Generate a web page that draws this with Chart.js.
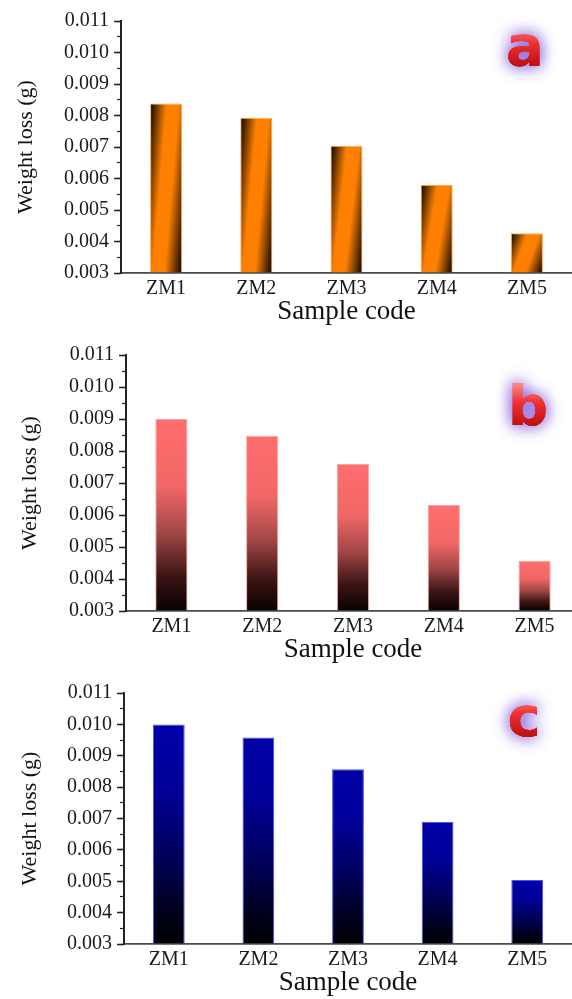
<!DOCTYPE html>
<html>
<head>
<meta charset="utf-8">
<script src="https://cdn.jsdelivr.net/npm/chart.js@4.4.1/dist/chart.umd.min.js"></script>
<style>
  html, body { margin: 0; padding: 0; background: #fff; }
  body { width: 572px; height: 999px; overflow: hidden; position: relative; }
  .panel { position: absolute; left: 0; width: 572px; overflow: hidden; }
</style>
</head>
<body>
<div class="panel" style="top:0px;height:328px"><canvas id="chartA" width="572" height="328"></canvas></div>
<div class="panel" style="top:330px;height:336px"><canvas id="chartB" width="582" height="336"></canvas></div>
<div class="panel" style="top:666px;height:333px"><canvas id="chartC" width="572" height="333"></canvas></div>
<script>
const sampleCodes = ['ZM1', 'ZM2', 'ZM3', 'ZM4', 'ZM5'];
const lossA = [0.00838, 0.00793, 0.00704, 0.00579, 0.00426];
const lossB = [0.00900, 0.00848, 0.00760, 0.00631, 0.00457];
const lossC = [0.01000, 0.00958, 0.00857, 0.00690, 0.00504];

const yMin = 0.003;
const yMax = 0.011;
const yStep = 0.001;
const yMinorStep = 0.0005;

const xTitle = 'Sample code';
const yTitle = 'Weight loss (g)';

const serif = '"Liberation Serif", "Times New Roman", serif';
const barFraction = 0.355;

// where the bar sits on the canvas, taken from the scales
function barBox(context) {
    const chart = context.chart;
    if (!chart.chartArea) return null;
    const xs = chart.scales.x;
    const ys = chart.scales.y;
    const cx = xs.getPixelForValue(context.dataIndex);
    const half = (xs.width / sampleCodes.length) * barFraction / 2;
    return {
        left: cx - half,
        right: cx + half,
        top: ys.getPixelForValue(context.raw),
        base: ys.getPixelForValue(yMin),
    };
}

function orangeFill(context) {
    const box = barBox(context);
    if (!box) return '#ff8000';
    const w = box.right - box.left;
    const h = box.base - box.top;
    const tilt = 0.45;
    const dx = h, dy = tilt * w;
    const norm = Math.hypot(dx, dy);
    const len = (1 + tilt) * w * h / norm;
    const g = context.chart.ctx.createLinearGradient(box.left, box.top, box.left + dx / norm * len, box.top + dy / norm * len);
    g.addColorStop(0, '#050200');
    g.addColorStop(0.36, '#ff8000');
    g.addColorStop(0.62, '#ff8000');
    g.addColorStop(1, '#050200');
    return g;
}

function verticalFill(stops, fallback) {
    return (context) => {
        const box = barBox(context);
        if (!box) return fallback;
        const g = context.chart.ctx.createLinearGradient(0, box.top, 0, box.base);
        stops.forEach(([p, col]) => g.addColorStop(p, col));
        return g;
    };
}

const redFill = verticalFill([[0, '#ff6e6e'], [0.35, '#f26767'], [0.6, '#a04646'], [0.82, '#3a1414'], [1, '#0a0000']], '#ff6e6e');
const blueFill = verticalFill([[0, '#0000a8'], [0.3, '#000098'], [0.65, '#000050'], [0.9, '#000012'], [1, '#000006']], '#0000a0');

const panelLetter = {
    id: 'panelLetter',
    afterDraw(chart, args, opts) {
        const c = chart.ctx;
        c.save();
        c.font = 'bold 56px "DejaVu Sans", sans-serif';
        c.textAlign = 'center';
        c.textBaseline = 'alphabetic';
        const g = c.createLinearGradient(0, opts.y - 40, 0, opts.y);
        g.addColorStop(0, '#ff8080');
        g.addColorStop(0.45, '#ee3030');
        g.addColorStop(1, '#c01010');
        c.fillStyle = g;
        c.shadowColor = 'rgba(130, 90, 220, 0.85)';
        c.shadowBlur = 16;
        c.fillText(opts.text, opts.x, opts.y);
        c.fillText(opts.text, opts.x, opts.y);
        c.shadowBlur = 0;
        c.fillText(opts.text, opts.x, opts.y);
        c.restore();
    },
};

function makePanel(id, values, fill, edge, p) {
    const config = {
        type: 'bar',
        data: {
            labels: sampleCodes,
            datasets: [{
                data: values,
                base: yMin,
                backgroundColor: fill,
                borderColor: edge,
                borderWidth: 1,
                barPercentage: barFraction,
                categoryPercentage: 1,
            }],
        },
        options: {
            responsive: false,
            animation: false,
            events: [],
            layout: { padding: { top: p.top, right: p.right, bottom: 0, left: 0 } },
            plugins: {
                legend: { display: false },
                tooltip: { enabled: false },
                panelLetter: { text: p.letter, x: p.lx, y: p.ly },
            },
            scales: {
                x: {
                    type: 'category',
                    grid: { display: false, drawTicks: false },
                    border: { display: true, color: '#4a4a4a', width: 1.8 },
                    ticks: { color: '#1a1a1a', padding: 4, font: { family: serif, size: 20 } },
                    title: {
                        display: true,
                        text: xTitle,
                        color: '#111',
                        padding: { top: 0, bottom: 0 },
                        font: { family: serif, size: 27 },
                    },
                    afterFit: (scale) => { scale.height = 55; },
                },
                y: {
                    type: 'linear',
                    position: 'left',
                    weight: 10,
                    min: yMin,
                    max: yMax,
                    grid: { drawOnChartArea: false, drawTicks: true, tickLength: 7, tickColor: '#222', tickWidth: 1.5 },
                    border: { display: true, color: '#222', width: 2 },
                    ticks: {
                        stepSize: yStep,
                        autoSkip: false,
                        padding: 5,
                        color: '#1a1a1a',
                        font: { family: serif, size: 20 },
                        callback: (v) => v.toFixed(3),
                    },
                    title: {
                        display: true,
                        text: yTitle,
                        color: '#111',
                        padding: { top: p.titlePad, bottom: 0 },
                        font: { family: serif, size: 22 },
                    },
                    afterFit: (scale) => { scale.width = p.left; },
                },
                yMinor: {
                    type: 'linear',
                    position: 'left',
                    weight: 0,
                    min: yMin,
                    max: yMax,
                    grid: { drawOnChartArea: false, drawTicks: true, tickLength: 4, tickColor: '#222', tickWidth: 1.2 },
                    border: { display: false },
                    ticks: { stepSize: yMinorStep, maxTicksLimit: 50, autoSkip: false, display: false },
                    afterFit: (scale) => { scale.width = 0; },
                },
            },
        },
        plugins: [panelLetter],
    };
    const ctx = document.getElementById(id).getContext('2d');
    return new Chart(ctx, config);
}

makePanel('chartA', lossA, orangeFill, '#ffa64d', { top: 21, right: 0, left: 121, titlePad: 13, letter: 'a', lx: 525, ly: 65 });
makePanel('chartB', lossB, redFill, '#ffa0a0', { top: 25, right: 2, left: 126, titlePad: 17, letter: 'b', lx: 528, ly: 95 });
makePanel('chartC', lossC, blueFill, '#5050ff', { top: 27, right: 0, left: 124, titlePad: 17, letter: 'c', lx: 524, ly: 70 });
</script>
</body>
</html>
